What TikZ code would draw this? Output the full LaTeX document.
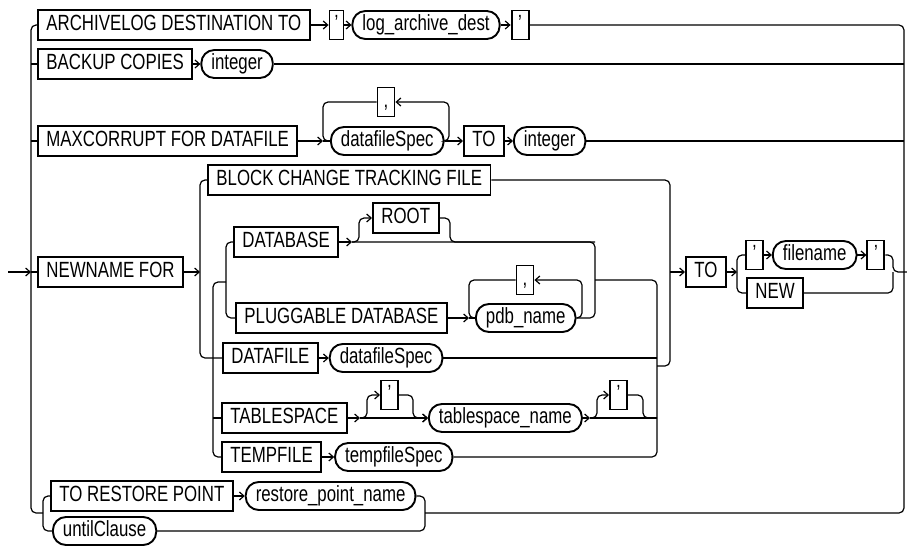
\documentclass[tikz,border=0pt]{standalone}
\usepackage{fontspec}
\setmainfont{Liberation Sans}[FakeStretch=0.765]
\usetikzlibrary{arrows.meta,positioning}

\begin{document}
\begin{tikzpicture}[
    x=1pt, y=-1pt,
    node distance=0pt and 7pt,
    kw/.style={rectangle, draw, line width=1.9pt, anchor=west, inner xsep=8.5pt, inner ysep=0pt, minimum height=30pt, text height=16pt, text depth=4.5pt, font=\fontsize{22pt}{26pt}\selectfont},
    qt/.style={kw, inner xsep=0pt, minimum width=17pt, minimum height=29pt},
    var/.style={kw, rounded corners=13pt, inner xsep=10pt, minimum height=28pt},
    rail/.style={line width=1.2pt, rounded corners=5pt},
    arrow/.style={rail, -{Straight Barb[length=4.5pt, width=8pt]}}
]
    \useasboundingbox (0,0) rectangle (907,546);

    % junctions of the rails
    \coordinate (in) at (8,272);
    \coordinate (l0) at (31,272);
    \coordinate (r0) at (904,272);
    \coordinate (out) at (907,272);
    \coordinate (sl) at (43,513);
    \coordinate (sr) at (425,513);
    \coordinate (dl) at (323,141);
    \coordinate (dr) at (449,141);
    \coordinate (v1) at (200,272);
    \coordinate (v2) at (213,282);
    \coordinate (v3) at (226,282);
    \coordinate (v3r) at (595,280);
    \coordinate (v2r) at (657,280);
    \coordinate (v1r) at (670,272);
    \coordinate (j1) at (657,366);
    \coordinate (rj) at (352,242);
    \coordinate (ru) at (359,218);
    \coordinate (rd) at (450,242);
    \coordinate (pl) at (469,318);
    \coordinate (pr) at (582,280);
    \coordinate (tj1) at (360,418);
    \coordinate (tu1) at (367,395);
    \coordinate (td1) at (413,418);
    \coordinate (tj2) at (590,418);
    \coordinate (tu2) at (597,395);
    \coordinate (td2) at (643,418);
    \coordinate (v4) at (737,272);
    \coordinate (v4r) at (893,272);

    % first three branches
    \node [kw] (a1) at (37,25) {ARCHIVELOG DESTINATION TO};
    \node [qt, minimum width=14pt, right=18pt of a1] (a2) {’};
    \node [var, right=7pt of a2] (a3) {log\_archive\_dest};
    \node [qt, right=10pt of a3] (a4) {’};

    \node [kw] (b1) at (37,64) {BACKUP COPIES};
    \node [var, right=7pt of b1] (b2) {integer};

    \node [kw] (c1) at (37,141) {MAXCORRUPT FOR DATAFILE};
    \node [var] (c2) at (330,141) {datafileSpec};
    \node [qt, anchor=center] (c3) at (386,102) {,};
    \node [kw] (c4) at (463,141) {TO};
    \node [var, right=8pt of c4] (c5) {integer};

    % NEWNAME FOR
    \node [kw] (n1) at (37,272) {NEWNAME FOR};
    \node [kw] (bctf) at (207,180) {BLOCK CHANGE TRACKING FILE};
    \node [kw] (db) at (233,242) {DATABASE};
    \node [kw] (rt) at (372,218) {ROOT};
    \node [kw] (pk) at (235,318) {PLUGGABLE DATABASE};
    \node [var] (pdb) at (475,318) {pdb\_name};
    \node [qt, anchor=center] (c6) at (525,280) {,};
    \node [kw] (df) at (222,358) {DATAFILE};
    \node [var, right=10pt of df] (dfs) {datafileSpec};
    \node [kw] (ts) at (221,418) {TABLESPACE};
    \node [qt] (q1) at (380,395) {’};
    \node [var] (tsn) at (428,418) {tablespace\_name};
    \node [qt] (q2) at (609,395) {’};
    \node [kw] (tf) at (221,457) {TEMPFILE};
    \node [var, right=12pt of tf] (tfs) {tempfileSpec};

    \node [kw] (to2) at (685,272) {TO};
    \node [qt] (q3) at (745,255) {’};
    \node [var, right=8pt of q3] (fn) {filename};
    \node [qt, right=9pt of fn] (q4) {’};
    \node [kw] (nw) at (746,293) {NEW};

    % last branch
    \node [kw] (trp) at (50,496) {TO RESTORE POINT};
    \node [var, right=11pt of trp] (rpn) {restore\_point\_name};
    \node [var] (uc) at (52,531) {untilClause};

    % outer rails
    \draw [arrow] (in) -- (l0);
    \draw [rail] (a1.west) -| (l0) |- (sl);
    \draw [rail] (l0 |- b1) -- (b1.west);
    \draw [rail] (l0 |- c1) -- (c1.west);
    \draw [rail] (l0) -- (n1.west);
    \draw [rail] (a4.east) -| (r0) |- (sr);
    \draw [rail] (b2.east) -- (r0 |- b2);
    \draw [rail] (c5.east) -- (r0 |- c5);

    \draw [arrow] (a1) -- (a2);
    \draw [arrow] (a2) -- (a3);
    \draw [arrow] (a3) -- (a4);
    \draw [arrow] (b1) -- (b2);

    \draw [arrow] (c1) -- (dl);
    \draw [rail] (dl) -- (c2.west);
    \draw [arrow] (c2.east) -- (dr) |- (c3.east);
    \draw [rail] (c3.west) -| (dl) -- (c2.west);
    \draw [arrow] (c2) -- (c4);
    \draw [arrow] (c4) -- (c5);

    % NEWNAME FOR choice
    \draw [arrow] (n1) -- (v1);
    \draw [rail] (bctf.west) -| (v1) |- (df.west);
    \draw [rail] (bctf.east) -| (v1r) |- (j1);
    \draw [rail] (db.west) -| (v3) |- (pk.west);
    \draw [rail] (v3) -- (v2) |- (tf.west);
    \draw [rail] (v2 |- ts) -- (ts.west);

    \draw [arrow] (db) -- (rj);
    \draw [arrow] (rj) -| (ru) -- (rt);
    \draw [rail] (rt.east) -| (rd) -- (v3r |- rd);
    \draw [rail] (rj) -| (v3r) |- (pdb.east);

    \draw [arrow] (pk) -- (pl);
    \draw [rail] (pl) -- (pdb.west);
    \draw [arrow] (pdb.east) -| (pr) -- (c6.east);
    \draw [rail] (c6.west) -| (pl) -- (pdb.west);

    \draw [rail] (v3r) -- (v2r) |- (tfs.east);
    \draw [arrow] (df) -- (dfs);
    \draw [rail] (dfs.east) -- (v2r |- dfs);

    \draw [arrow] (ts) -- (tj1);
    \draw [arrow] (tj1) -- (tsn);
    \draw [arrow] (tj1) -| (tu1) -- (q1);
    \draw [arrow] (q1.east) -| (td1) -- (tsn);
    \draw [arrow] (tsn) -- (tj2);
    \draw [rail] (tj2) -- (v2r |- tsn);
    \draw [arrow] (tj2) -| (tu2) -- (q2);
    \draw [rail] (q2.east) -| (td2) -- (v2r |- tsn);

    \draw [arrow] (tf) -- (tfs);

    % TO ' filename ' | NEW
    \draw [arrow] (v1r) -- (to2);
    \draw [arrow] (to2) -- (v4);
    \draw [rail] (v4) |- (q3.west);
    \draw [rail] (v4) |- (nw.west);
    \draw [arrow] (q3) -- (fn);
    \draw [arrow] (fn) -- (q4);
    \draw [rail] (q4.east) -| (v4r) -- (out);
    \draw [rail] (nw.east) -| (v4r);

    % TO RESTORE POINT | untilClause
    \draw [rail] (trp.west) -| (sl) |- (uc.west);
    \draw [rail] (rpn.east) -| (sr) |- (uc.east);
    \draw [arrow] (trp) -- (rpn);
\end{tikzpicture}
\end{document}
